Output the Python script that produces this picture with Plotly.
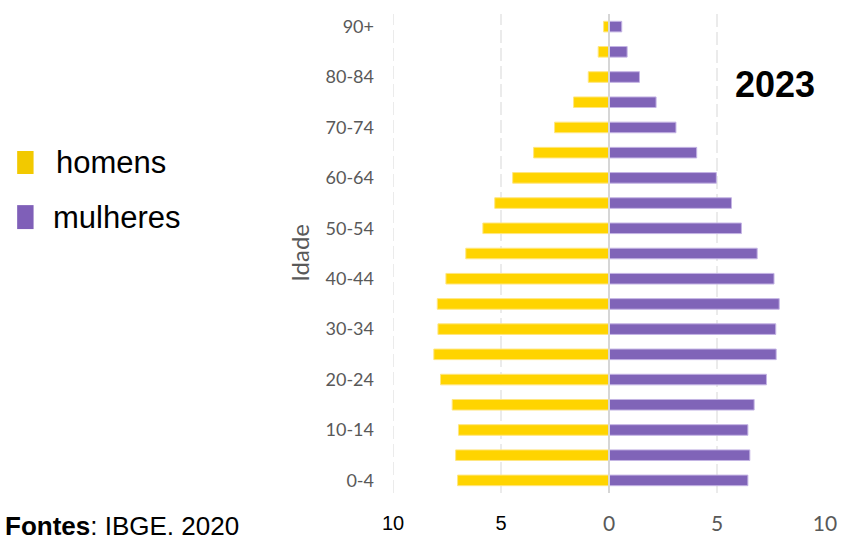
import plotly.graph_objects as go

# ---- data ----
age_groups = ["0-4", "5-9", "10-14", "15-19", "20-24", "25-29", "30-34", "35-39",
              "40-44", "45-49", "50-54", "55-59", "60-64", "65-69", "70-74",
              "75-79", "80-84", "85-89", "90+"]
age_tick_text = ["0-4", "", "10-14", "", "20-24", "", "30-34", "", "40-44", "",
                 "50-54", "", "60-64", "", "70-74", "", "80-84", "", "90+"]
homens = [7.01, 7.10, 6.97, 7.26, 7.80, 8.11, 7.92, 7.95, 7.55, 6.63,
          5.84, 5.29, 4.46, 3.49, 2.52, 1.64, 0.96, 0.50, 0.25]
mulheres = [6.43, 6.52, 6.43, 6.72, 7.29, 7.74, 7.72, 7.88, 7.64, 6.86,
            6.13, 5.67, 4.97, 4.06, 3.10, 2.18, 1.41, 0.84, 0.59]
x_right_ticks = [0, 5, 10]
x_right_text = ["0", "5", "10"]
x_left_ticks = [-10, -5]
x_left_text = ["10", "5"]

YELLOW = "#FFD400"
PURPLE = "#8064B8"

fig = go.Figure()
fig.add_trace(go.Bar(
    y=age_groups, x=[-v for v in homens], orientation="h", name="homens",
    marker=dict(color=YELLOW, line=dict(color="#FFE680", width=1)),
    showlegend=False, hoverinfo="skip"))
fig.add_trace(go.Bar(
    y=age_groups, x=mulheres, orientation="h", name="mulheres",
    marker=dict(color=PURPLE, line=dict(color="#C4B4E4", width=1)),
    showlegend=False, hoverinfo="skip"))
# empty trace so the second (left-side label) x axis is rendered
fig.add_trace(go.Scatter(x=[], y=[], xaxis="x2", yaxis="y", showlegend=False,
                         hoverinfo="skip"))

GRID = "#EBEBEB"
fig.update_layout(
    width=841, height=535,
    margin=dict(l=393, r=16, t=14, b=42, autoexpand=False),
    paper_bgcolor="white", plot_bgcolor="white",
    barmode="relative", bargap=0.58,
    xaxis=dict(range=[-10, 10], tickvals=x_right_ticks, ticktext=x_right_text,
               tickfont=dict(family="Lato", size=21, color="#595959"),
               showgrid=True, gridcolor=GRID, gridwidth=2, griddash="13px,5px",
               zeroline=False, showline=False, ticks="", ticklabelstandoff=16,
               automargin=False, fixedrange=True),
    xaxis2=dict(range=[-10, 10], overlaying="x", side="bottom", anchor="y",
                tickvals=x_left_ticks, ticktext=x_left_text,
                tickfont=dict(family="Liberation Sans", size=20, color="#000000"),
                showgrid=False, zeroline=False, showline=False, ticks="",
                ticklabelstandoff=16, automargin=False, fixedrange=True),
    yaxis=dict(tickvals=age_groups, ticktext=age_tick_text, categoryorder="array",
               categoryarray=age_groups,
               tickfont=dict(family="Lato", size=18, color="#595959"),
               showgrid=False, zeroline=False, showline=False, ticks="",
               ticklabelstandoff=18, range=[-0.5, 18.5], automargin=False,
               fixedrange=True),
)

# gridlines for the left side ticks
for xv in x_left_ticks:
    fig.add_shape(type="line", xref="x", yref="paper", x0=xv, x1=xv, y0=0, y1=1,
                  line=dict(color=GRID, width=2, dash="13px,5px"), layer="below")

# zero axis line above bars
fig.add_shape(type="line", xref="x", yref="paper", x0=0, x1=0, y0=0, y1=1,
              line=dict(color="#D6D6D6", width=2), layer="above")

# manual legend
fig.add_shape(type="rect", xref="paper", yref="paper", x0=-0.870, x1=-0.832,
              y0=0.666, y1=0.714, fillcolor="#F2C900", line=dict(width=0))
fig.add_shape(type="rect", xref="paper", yref="paper", x0=-0.870, x1=-0.832,
              y0=0.551, y1=0.601, fillcolor="#7F5FB8", line=dict(width=0))
fig.add_annotation(xref="paper", yref="paper", x=-0.785, y=0.689, xanchor="left",
                   yanchor="middle", text="homens", showarrow=False,
                   font=dict(family="Liberation Sans", size=31, color="black"))
fig.add_annotation(xref="paper", yref="paper", x=-0.792, y=0.576, xanchor="left",
                   yanchor="middle", text="mulheres", showarrow=False,
                   font=dict(family="Liberation Sans", size=31, color="black"))

# year label
fig.add_annotation(xref="paper", yref="paper", x=0.884, y=0.852, xanchor="center",
                   yanchor="middle", text="<b>2023</b>", showarrow=False,
                   font=dict(family="Liberation Sans", size=36, color="black"))

# y axis title
fig.add_annotation(xref="paper", yref="paper", x=-0.218, y=0.501, xanchor="center",
                   yanchor="middle", text="Idade", textangle=-90, showarrow=False,
                   font=dict(family="Lato", size=24, color="#595959"))

# source
fig.add_annotation(xref="paper", yref="paper", x=-0.903, y=-0.034, xanchor="left",
                   yanchor="top", text="<b>Fontes</b>: IBGE, 2020", showarrow=False,
                   font=dict(family="Liberation Sans", size=26, color="black"))

fig.write_html("out.html")
